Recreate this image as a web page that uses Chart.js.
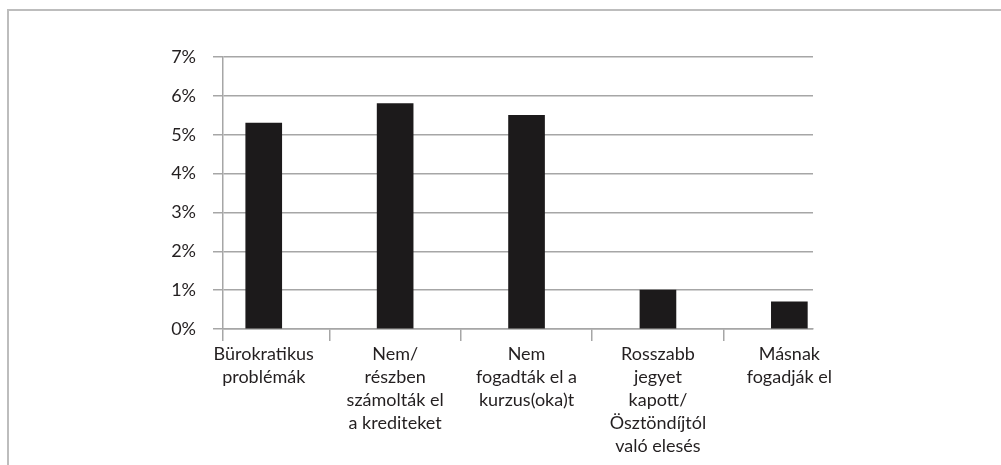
<!DOCTYPE html>
<html>
<head>
<meta charset="utf-8">
<script src="https://cdn.jsdelivr.net/npm/chart.js@4"></script>
<style>
  html, body { margin: 0; padding: 0; background: #fff; }
  #wrap { position: relative; width: 1001px; height: 465px; overflow: hidden; }
  #frame { position: absolute; left: 7px; top: 9px; width: 1100px; height: 600px;
           border-left: 2px solid #bdbdbd; border-top: 2px solid #bdbdbd; }
  canvas { position: absolute; left: 0; top: 0; }
</style>
</head>
<body>
<div id="wrap">
  <div id="frame"></div>
  <canvas id="okokChart" width="1001" height="465"></canvas>
</div>
<script>
// categories (x axis labels, split per line)
const categories = [
    ['Bürokratikus', 'problémák'],
    ['Nem/', 'részben', 'számolták el', 'a krediteket'],
    ['Nem', 'fogadták el a', 'kurzus(oka)t'],
    ['Rosszabb', 'jegyet', 'kapott/', 'Ösztöndíjtól', 'való elesés'],
    ['Másnak', 'fogadják el']
];

// share of answers, in percent
const values = [5.3, 5.8, 5.5, 1.0, 0.7];

// y axis ticks
const yTicks = [0, 1, 2, 3, 4, 5, 6, 7];

const gridGray = '#a6a6a6';
const textColor = '#231f20';

// x axis runs on index positions, tick marks between the bars
const xMin = -0.31;
const xMax = 4.18;

const ctx = document.getElementById('okokChart').getContext('2d');
new Chart(ctx, {
    type: 'bar',
    data: {
        datasets: [{
            label: 'Okok',
            data: values.map((v, i) => ({ x: i, y: v })),
            backgroundColor: '#1c1a1b',
            barThickness: 36
        }]
    },
    options: {
        responsive: false,
        animation: false,
        layout: {
            padding: { top: 57, right: 188, left: 0, bottom: 0 }
        },
        plugins: {
            legend: { display: false },
            tooltip: { enabled: false }
        },
        scales: {
            x: {
                type: 'linear',
                offset: false,
                min: xMin,
                max: xMax,
                afterBuildTicks: (scale) => {
                    const t = [{ value: xMin }];
                    categories.forEach((c, i) => {
                        t.push({ value: i });
                        if (i < categories.length - 1) t.push({ value: i + 0.5 });
                    });
                    scale.ticks = t;
                },
                afterFit: (scale) => { scale.height = 136; },
                grid: {
                    offset: false,
                    drawOnChartArea: false,
                    drawTicks: true,
                    tickLength: 12,
                    lineWidth: 1.5,
                    color: (c) => (c.tick && Number.isInteger(c.tick.value)) ? 'rgba(0,0,0,0)' : gridGray
                },
                border: { display: true, color: gridGray, width: 1.5 },
                ticks: {
                    autoSkip: false,
                    maxRotation: 0,
                    minRotation: 0,
                    padding: 2,
                    color: textColor,
                    font: { family: 'Lato', size: 18, lineHeight: 1.28 },
                    callback: (v) => Number.isInteger(v) ? categories[v] : ''
                }
            },
            y: {
                min: 0,
                max: 7,
                afterBuildTicks: (scale) => {
                    scale.ticks = yTicks.map(v => ({ value: v }));
                },
                afterFit: (scale) => { scale.width = 223; },
                grid: {
                    color: gridGray,
                    lineWidth: 1.5,
                    tickLength: 10
                },
                border: { display: true, color: gridGray, width: 1.5 },
                ticks: {
                    padding: 17,
                    color: textColor,
                    font: { family: 'Lato', size: 18 },
                    callback: (v) => v + '%'
                }
            }
        }
    }
});
</script>
</body>
</html>
